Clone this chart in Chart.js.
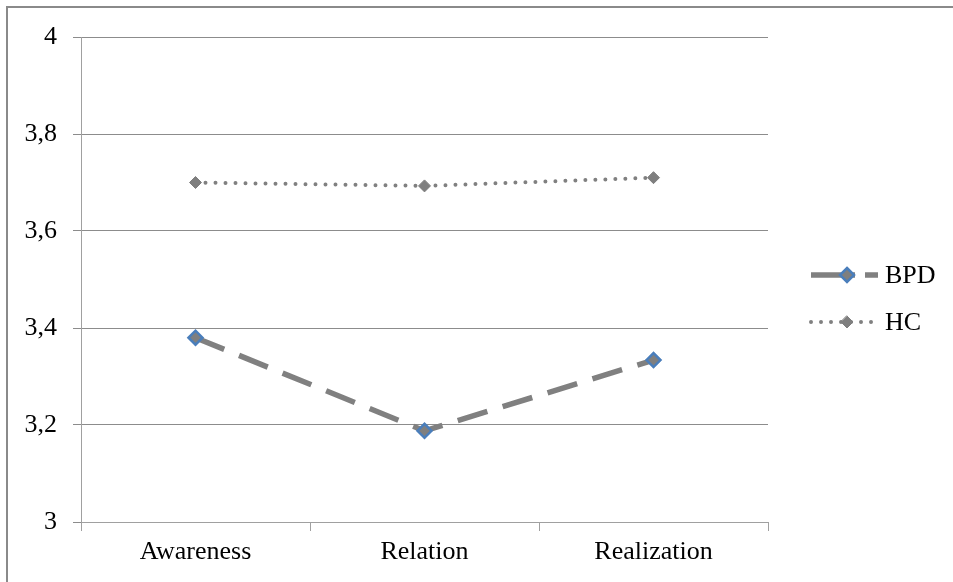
<!DOCTYPE html>
<html>
<head>
<meta charset="utf-8">
<script src="https://cdn.jsdelivr.net/npm/chart.js@4/dist/chart.umd.min.js"></script>
<style>
html,body{margin:0;padding:0;background:#fff;overflow:hidden;}
#frame{position:absolute;left:6px;top:6px;width:1000px;height:600px;border-left:2px solid #8a8a8a;border-top:2px solid #8a8a8a;}
#wrap{position:absolute;left:0;top:0;width:953px;height:582px;}
</style>
</head>
<body>
<div id="frame"></div>
<div id="wrap"><canvas id="c" width="953" height="582"></canvas></div>
<script>
const categories = ['Awareness', 'Relation', 'Realization'];
const bpdValues = [3.38, 3.188, 3.334];
const hcValues = [3.70, 3.693, 3.71];
const seriesNames = ['BPD', 'HC'];
const yTickLabels = {3: '3', 3.2: '3,2', 3.4: '3,4', 3.6: '3,6', 3.8: '3,8', 4: '4'};

const FONT = "'Liberation Serif', 'Times New Roman', serif";

const legendPlugin = {
  id: 'sideLegend',
  afterDraw(chart) {
    const ctx = chart.ctx;
    const rows = [275, 322];
    chart.data.datasets.forEach((ds, i) => {
      const y = rows[i];
      ctx.save();
      ctx.strokeStyle = ds.borderColor;
      ctx.lineWidth = ds.borderWidth;
      ctx.lineCap = ds.borderCapStyle || 'butt';
      ctx.setLineDash(ds.legendDash);
      ctx.beginPath();
      ctx.moveTo(811, y);
      ctx.lineTo(878, y);
      ctx.stroke();
      ctx.setLineDash([]);
      const r = ds.pointRadius;
      ctx.beginPath();
      ctx.moveTo(847, y - r);
      ctx.lineTo(847 + r, y);
      ctx.lineTo(847, y + r);
      ctx.lineTo(847 - r, y);
      ctx.closePath();
      ctx.fillStyle = ds.pointBackgroundColor;
      ctx.fill();
      ctx.lineWidth = ds.pointBorderWidth;
      ctx.strokeStyle = ds.pointBorderColor;
      ctx.stroke();
      ctx.fillStyle = '#000';
      ctx.font = '26px ' + FONT;
      ctx.textBaseline = 'middle';
      ctx.textAlign = 'left';
      ctx.fillText(ds.label, 885, y + 1);
      ctx.restore();
    });
  }
};

new Chart(document.getElementById('c'), {
  type: 'line',
  data: {
    labels: categories,
    datasets: [
      {
        label: seriesNames[0],
        data: bpdValues,
        borderColor: '#808080',
        borderWidth: 5.5,
        borderDash: [31, 16],
        borderCapStyle: 'butt',
        legendDash: [44, 10, 20],
        pointStyle: 'rectRot',
        pointRadius: 7,
        pointBackgroundColor: '#7f7f7f',
        pointBorderColor: '#4a7ebb',
        pointBorderWidth: 2.5,
        tension: 0
      },
      {
        label: seriesNames[1],
        data: hcValues,
        borderColor: '#808080',
        borderWidth: 4,
        borderDash: [0, 10],
        borderCapStyle: 'round',
        legendDash: [0, 10],
        pointStyle: 'rectRot',
        pointRadius: 6,
        pointBackgroundColor: '#7f7f7f',
        pointBorderColor: '#7f7f7f',
        pointBorderWidth: 1,
        tension: 0
      }
    ]
  },
  options: {
    responsive: false,
    animation: false,
    layout: { padding: { left: 0, right: 185, top: 37, bottom: 0 } },
    plugins: { legend: { display: false }, tooltip: { enabled: false } },
    scales: {
      x: {
        offset: true,
        grid: { offset: true, drawOnChartArea: false, drawTicks: true, tickLength: 9, color: '#a0a0a0' },
        border: { color: '#a0a0a0', width: 1 },
        ticks: { color: '#000', font: { family: FONT, size: 26 }, padding: 6, maxRotation: 0 },
        afterFit(s) { s.height = 60; }
      },
      y: {
        min: 3, max: 4,
        grid: { color: '#8c8c8c', tickLength: 8, drawTicks: true },
        border: { color: '#a0a0a0', width: 1 },
        ticks: {
          stepSize: 0.2,
          color: '#000',
          font: { family: FONT, size: 26 },
          padding: 16,
          callback(v) { const k = Math.round(v * 10) / 10; return yTickLabels[k] !== undefined ? yTickLabels[k] : ''; }
        },
        afterFit(s) { s.width = 81; }
      }
    }
  },
  plugins: [legendPlugin]
});
</script>
</body>
</html>
